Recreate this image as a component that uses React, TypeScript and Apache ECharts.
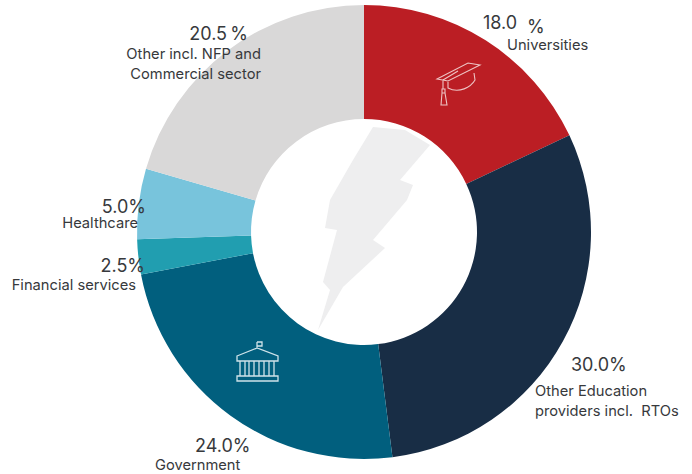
import React, { useEffect, useRef } from "react";
import * as echarts from "echarts";

const categories = ["Universities", "Other Education providers incl. RTOs", "Government", "Financial services", "Healthcare", "Other incl. NFP and Commercial sector"];
const shareValues = [18.0, 30.0, 24.0, 2.5, 5.0, 20.5];
const sliceColors = ["#bb1e24", "#182d45", "#015f7e", "#219eb0", "#78c4dc", "#d9d8d8"];
const percentTexts = ["18.0", "30.0%", "24.0%", "2.5%", "5.0%", "20.5\u2009%"];
const captionLines = [["Universities"], ["Other Education", "providers incl.  RTOs"], ["Government"], ["Financial services"], ["Healthcare"], ["Other incl. NFP and", "Commercial sector"]];

const FONT = "Inter, Roboto, sans-serif";
const INK = "#37393c";

// Outline icons, in local coordinates
const CAP_ICON = "M0 16 L31 0 L43 2 L11 18 Z M6 17 L21 8 M11 19 L11 25 C22 31 34 24 38 17 L37 10 M6 17 L6 26 M5 26 L8 26 L8 30 L5 30 Z M5 30 L8 30 L10 42 L4 42 Z";
const TEMPLE_ICON = "M20 0 L20 6 M20 0 L25 0 L25 4 L20 4 M0 14 L20 6 L41 14 L41 19 L0 19 Z M3 19 L3 34 M8 19 L8 34 M12 19 L12 34 M17 19 L17 34 M22 19 L22 34 M27 19 L27 34 M32 19 L32 34 M37 19 L37 34 M0 34 L41 34 L41 39 L0 39 Z";
echarts.graphic.registerShape("capIcon", echarts.graphic.extendPath(CAP_ICON, {}));
echarts.graphic.registerShape("templeIcon", echarts.graphic.extendPath(TEMPLE_ICON, {}));

// Pixel anchors of each slice's caption block, in category order
const percentAnchors: [number, number, string, number][] = [
  [483, 22, "left", 18], [571, 364, "left", 18], [195, 445, "left", 18],
  [145, 265, "right", 18], [146, 206, "right", 18], [248, 33, "right", 18],
];
const captionAnchors: [number, number, string][] = [
  [507, 45, "left"], [535, 391, "left"], [155, 465, "left"],
  [136, 285, "right"], [138, 223, "right"], [261, 54, "right"],
];

function textEl(text: string, x: number, y: number, align: string, fontSize: number) {
  return { type: "text", x, y, z: 10, style: { text, fill: INK, font: `${fontSize}px ${FONT}`, textAlign: align, textVerticalAlign: "middle" } };
}

export default function App() {
  const ref = useRef<HTMLDivElement>(null);
  useEffect(() => {
    document.body.style.margin = "0";
    const chart = echarts.init(ref.current!, null, { renderer: "svg" });
    const labels: any[] = [];
    categories.forEach((_, i) => {
      const [px, py, pa, ps] = percentAnchors[i];
      labels.push(textEl(percentTexts[i], px, py, pa, ps));
      const [cx, cy, ca] = captionAnchors[i];
      captionLines[i].forEach((line, k) => labels.push(textEl(line, cx, cy + k * 20, ca, 14.7)));
    });
    labels.push(textEl("%", 527, 26, "left", 18));
    chart.setOption({
      animation: false,
      backgroundColor: "#ffffff",
      series: [{
        type: "pie",
        center: [364, 232],
        radius: [113, 227],
        startAngle: 90,
        clockwise: true,
        silent: true,
        label: { show: false },
        labelLine: { show: false },
        itemStyle: { borderWidth: 0 },
        data: categories.map((name, i) => ({ name, value: shareValues[i], itemStyle: { color: sliceColors[i] } })),
      }],
      graphic: { elements: [
        { type: "polygon", z: 5, shape: { points: [[373, 127], [405, 130], [430, 145], [400, 180], [413, 185], [407, 200], [373, 240], [385, 248], [343, 287], [318, 330], [330, 290], [323, 282], [337, 230], [325, 228], [330, 200], [353, 160]] }, style: { fill: "#eeeeef" } },
        { type: "capIcon", x: 437, y: 63, z: 6, style: { fill: "none", stroke: "#eec4c4", lineWidth: 1.1 } },
        { type: "templeIcon", x: 237, y: 342, z: 6, style: { fill: "none", stroke: "#cfe3ea", lineWidth: 1.3 } },
        ...labels,
      ] },
    });
    return () => chart.dispose();
  }, []);
  return <div ref={ref} style={{ width: 692, height: 474 }} />;
}
